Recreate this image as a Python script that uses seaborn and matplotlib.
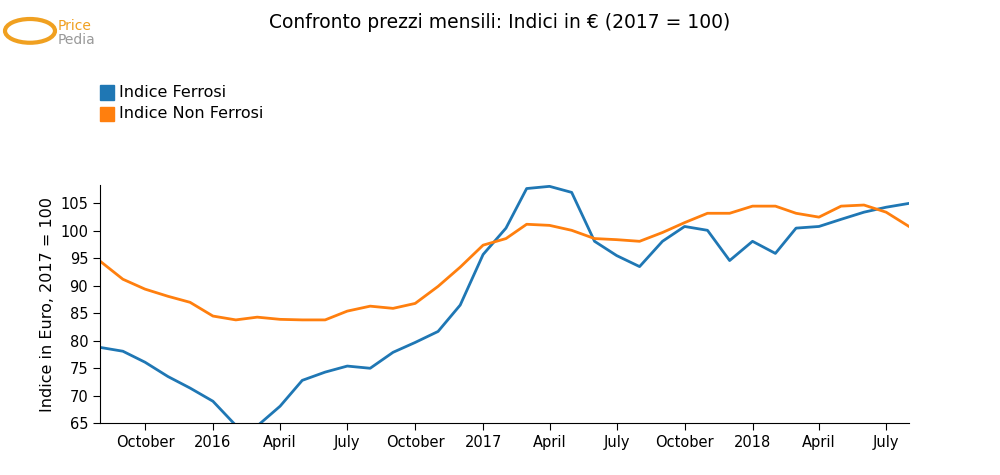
import pandas as pd
import numpy as np
import matplotlib
matplotlib.use("Agg")
import matplotlib.pyplot as plt
import seaborn as sns

# monthly data, Aug 2015 - Aug 2018
months = pd.date_range("2015-08-01", "2018-08-01", freq="MS")
ferrosi = [78.8, 78.1, 76.1, 73.5, 71.4, 69.0, 64.6, 64.5, 68.1, 72.8, 74.3, 75.4,
           75.0, 77.9, 79.7, 81.7, 86.5, 95.7, 100.5, 107.7, 108.1, 107.0, 98.1, 95.5,
           93.5, 98.1, 100.8, 100.1, 94.6, 98.1, 95.9, 100.5, 100.8, 102.1, 103.4, 104.3, 105.0]
non_ferrosi = [94.5, 91.2, 89.4, 88.1, 87.0, 84.5, 83.8, 84.3, 83.9, 83.8, 83.8, 85.4,
               86.3, 85.9, 86.8, 89.9, 93.4, 97.4, 98.6, 101.2, 101.0, 100.1, 98.6, 98.4,
               98.1, 99.7, 101.5, 103.2, 103.2, 104.5, 104.5, 103.2, 102.5, 104.5, 104.7, 103.4, 100.8]
series_names = ["Indice Ferrosi", "Indice Non Ferrosi"]
colors = ["#1f77b4", "#ff7f0e"]

df = pd.DataFrame({"date": list(months) * 2,
                   "value": ferrosi + non_ferrosi,
                   "serie": [series_names[0]] * len(months) + [series_names[1]] * len(months)})

fig = plt.figure(figsize=(10, 4.75), dpi=100)
ax = fig.add_axes([0.1, 0.109, 0.809, 0.501])
sns.lineplot(data=df, x="date", y="value", hue="serie", palette=colors, linewidth=2,
             ax=ax, legend=False)

ax.set_xlim(months[0], months[-1])
ax.set_ylim(65, 108.3)
ax.set_yticks(range(65, 106, 5))
tick_dates = pd.to_datetime(["2015-10-01", "2016-01-01", "2016-04-01", "2016-07-01", "2016-10-01",
                             "2017-01-01", "2017-04-01", "2017-07-01", "2017-10-01",
                             "2018-01-01", "2018-04-01", "2018-07-01"])
tick_labels = ["October", "2016", "April", "July", "October", "2017", "April", "July",
               "October", "2018", "April", "July"]
ax.set_xticks(tick_dates)
ax.set_xticklabels(tick_labels)
ax.tick_params(labelsize=10.5, length=5)
ax.set_xlabel("")
ax.set_ylabel("Indice in Euro, 2017 = 100", fontsize=11.5)
ax.spines["top"].set_visible(False)
ax.spines["right"].set_visible(False)

fig.text(0.5, 0.953, "Confronto prezzi mensili: Indici in € (2017 = 100)", ha="center",
         va="center", fontsize=13.5)
# legend
for i, (name, c) in enumerate(zip(series_names, colors)):
    y = 0.805 - i * 0.045
    fig.patches.append(plt.Rectangle((0.1, y - 0.015), 0.014, 0.03, color=c,
                                     transform=fig.transFigure))
    fig.text(0.119, y, name, va="center", fontsize=11.5)
# logo
fig.patches.append(matplotlib.patches.Circle((0.03, 0.935), 0.025, fill=False, lw=3,
                                             ec="#f0a020", transform=fig.transFigure))
fig.text(0.058, 0.93, "Price", color="#f0a020", fontsize=10, va="bottom")
fig.text(0.058, 0.93, "Pedia", color="#999999", fontsize=10, va="top")

fig.savefig("out.png")
